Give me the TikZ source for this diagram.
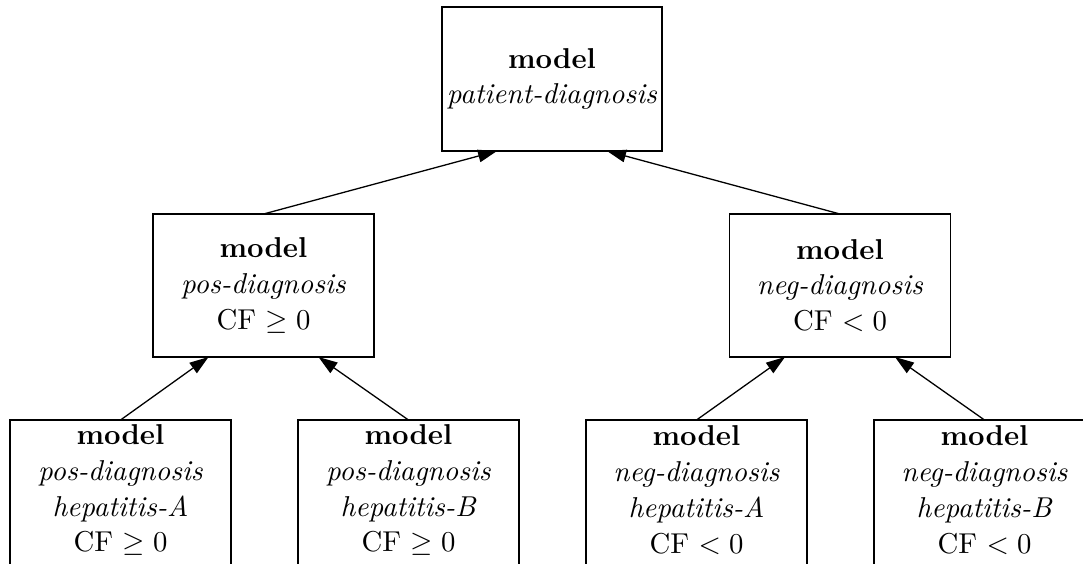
\documentclass[tikz,border=0pt]{standalone}
\usetikzlibrary{arrows.meta,calc}
\begin{document}
\begin{tikzpicture}[
  x=0.348pt, y=-0.348pt,
  font=\fontsize{10}{12.5}\selectfont,
  modelbox/.style={draw, line width=0.45pt, align=center, inner sep=0pt, outer sep=0pt,
    minimum width=221*0.348pt, minimum height=143*0.348pt},
  leaftext/.style={align=center, inner sep=0pt, outer sep=0pt},
  leafframe/.style={line width=0.45pt},
  arr/.style={line width=0.45pt, -{Triangle[length=6.6pt,width=4.4pt]}}
]
\useasboundingbox (0,0) rectangle (1083,563);
\clip (0,0) rectangle (1083,563);

% root
\node[modelbox, minimum width=220*0.348pt, minimum height=144*0.348pt] (root) at (552,79)
  {\textbf{model}\\ \textit{patient-diagnosis}};

% second level
\node[modelbox] (pos) at (263.5,285.5)
  {\textbf{model}\\ \textit{pos-diagnosis}\\ CF $\geq 0$};
\node[modelbox] (neg) at (840,285.5)
  {\textbf{model}\\ \textit{neg-diagnosis}\\ CF $< 0$};

% leaves (their frames run past the lower edge)
\node[leaftext] (pa) at (120.5,490)
  {\textbf{model}\\ \textit{pos-diagnosis}\\ \textit{hepatitis-A}\\ CF $\geq 0$};
\node[leaftext] (pb) at (408.5,490)
  {\textbf{model}\\ \textit{pos-diagnosis}\\ \textit{hepatitis-B}\\ CF $\geq 0$};
\node[leaftext] (na) at (696.5,490)
  {\textbf{model}\\ \textit{neg-diagnosis}\\ \textit{hepatitis-A}\\ CF $< 0$};
\node[leaftext] (nb) at (984.5,490)
  {\textbf{model}\\ \textit{neg-diagnosis}\\ \textit{hepatitis-B}\\ CF $< 0$};

\foreach \n in {pa,pb,na,nb}{
  \draw[leafframe] ($(\n)+(-110.5,120)$) |- ($(\n)+(110.5,-70)$) -- ($(\n)+(110.5,120)$);
  \coordinate (\n-top) at ($(\n)+(0,-70)$);
}

% connectors
\draw[arr] (pos.north) -- ($(root.south)+(-55,0)$);
\draw[arr] (neg.north) -- ($(root.south)+(55,0)$);
\draw[arr] (pa-top) -- ($(pos.south)+(-55,0)$);
\draw[arr] (pb-top) -- ($(pos.south)+(55,0)$);
\draw[arr] (na-top) -- ($(neg.south)+(-55,0)$);
\draw[arr] (nb-top) -- ($(neg.south)+(55,0)$);
\end{tikzpicture}
\end{document}
